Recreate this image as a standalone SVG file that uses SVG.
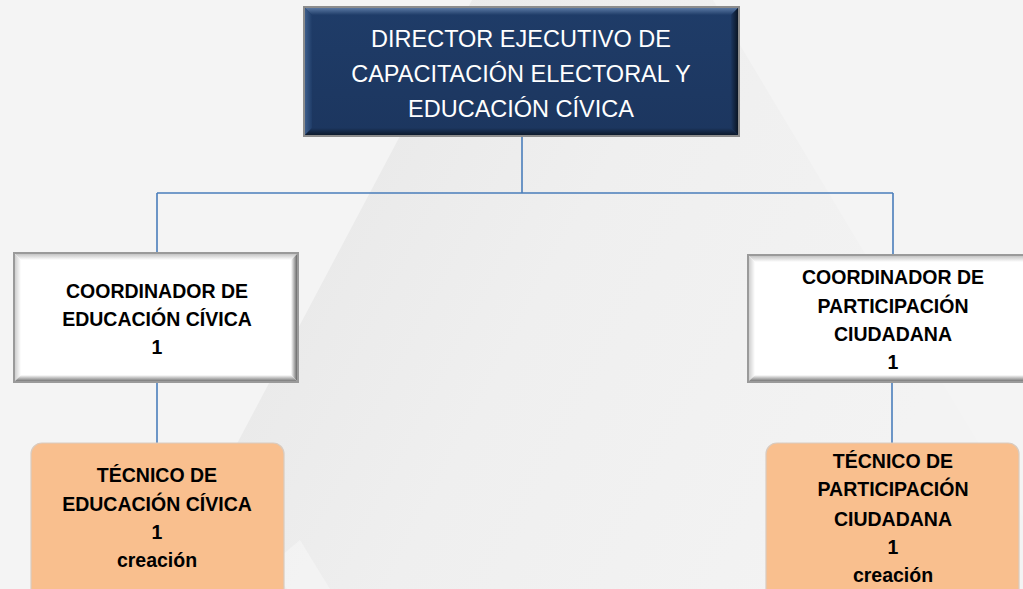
<svg xmlns="http://www.w3.org/2000/svg" width="1023" height="589" viewBox="0 0 1023 589">
<defs>
<linearGradient id="bgShape" x1="0" y1="0" x2="1" y2="0.35">
<stop offset="0" stop-color="#e4e4e4"/>
<stop offset="0.55" stop-color="#efefef"/>
<stop offset="1" stop-color="#f3f3f3"/>
</linearGradient>
<linearGradient id="dirFill" x1="0" y1="0" x2="0" y2="1">
<stop offset="0" stop-color="#1f3c68"/>
<stop offset="1" stop-color="#1c365f"/>
</linearGradient>
<linearGradient id="bvR" x1="0" y1="0" x2="1" y2="0">
<stop offset="0" stop-color="#ffffff"/>
<stop offset="1" stop-color="#6a6a6a"/>
</linearGradient>
<linearGradient id="bvB" x1="0" y1="0" x2="0" y2="1">
<stop offset="0" stop-color="#ffffff"/>
<stop offset="1" stop-color="#7a7a7a"/>
</linearGradient>
<linearGradient id="bvT" x1="0" y1="0" x2="0" y2="1">
<stop offset="0" stop-color="#c4c4c4"/>
<stop offset="1" stop-color="#ffffff"/>
</linearGradient>
<linearGradient id="bvL" x1="0" y1="0" x2="1" y2="0">
<stop offset="0" stop-color="#cfcfcf"/>
<stop offset="1" stop-color="#ffffff"/>
</linearGradient>
<linearGradient id="dR" x1="0" y1="0" x2="1" y2="0">
<stop offset="0" stop-color="#1c365f"/>
<stop offset="1" stop-color="#0a1524"/>
</linearGradient>
<linearGradient id="dB" x1="0" y1="0" x2="0" y2="1">
<stop offset="0" stop-color="#1c365f"/>
<stop offset="1" stop-color="#0d1a2c"/>
</linearGradient>
<linearGradient id="dT" x1="0" y1="0" x2="0" y2="1">
<stop offset="0" stop-color="#5a78a2"/>
<stop offset="1" stop-color="#1f3c68"/>
</linearGradient>
<linearGradient id="dL" x1="0" y1="0" x2="1" y2="0">
<stop offset="0" stop-color="#3d5d8a"/>
<stop offset="1" stop-color="#1f3c68"/>
</linearGradient>
<style>
.conn{fill:none;stroke:#4a7ebb;stroke-width:1.6}
.dirtxt{font-family:"Liberation Sans",Arial,sans-serif;font-size:23.5px;fill:#ffffff;text-anchor:middle}
.btxt{font-family:"Liberation Sans",Arial,sans-serif;font-size:19.5px;font-weight:bold;fill:#000000;text-anchor:middle}
.tec{fill:#f9bf8e;stroke:#d9cbbf;stroke-width:1.2}
</style>
</defs>
<rect x="0" y="0" width="1023" height="589" fill="#f4f4f4"/>
<polygon points="472,0 713,0 1023,517 1023,589 160,589" fill="url(#bgShape)"/>
<polygon points="268,567 300,540 330,589 287,589" fill="#f7f7f7" opacity="0.6"/>

<g id="connectors">
<path class="conn" d="M522,137 V193 M157,193 H893 M157,193 V252 M893,193 V254"/>
<path class="conn" d="M157,383 V443"/>
<path class="conn" d="M892,383 V443"/>
</g>

<g id="director">
<rect x="303" y="6" width="437" height="131" fill="#8c8c8c"/>
<rect x="305" y="8" width="433" height="127" fill="url(#dirFill)"/>
<polygon points="305,8 738,8 731,15 312,15" fill="url(#dT)"/>
<polygon points="305,8 312,15 312,128 305,135" fill="url(#dL)"/>
<polygon points="738,8 738,135 731,128 731,15" fill="url(#dR)"/>
<polygon points="305,135 738,135 731,128 312,128" fill="url(#dB)"/>
<text class="dirtxt" x="521" y="47">DIRECTOR EJECUTIVO DE</text>
<text class="dirtxt" x="521" y="82">CAPACITACIÓN ELECTORAL Y</text>
<text class="dirtxt" x="521" y="117">EDUCACIÓN CÍVICA</text>
</g>

<g id="coord-educacion">
<rect x="13" y="252" width="286" height="131" fill="#9a9a9a"/>
<rect x="15" y="254" width="282" height="127" fill="#ffffff"/>
<polygon points="15,254 297,254 291,260 21,260" fill="url(#bvT)"/>
<polygon points="15,254 21,260 21,375 15,381" fill="url(#bvL)"/>
<polygon points="297,254 297,381 291,375 291,260" fill="url(#bvR)"/>
<polygon points="15,381 297,381 291,375 21,375" fill="url(#bvB)"/>
<text class="btxt" x="157" y="298">COORDINADOR DE</text>
<text class="btxt" x="157" y="326">EDUCACIÓN CÍVICA</text>
<text class="btxt" x="157" y="354">1</text>
</g>

<g id="coord-participacion">
<rect x="747" y="254" width="290" height="129" fill="#9a9a9a"/>
<rect x="749" y="256" width="286" height="125" fill="#ffffff"/>
<polygon points="749,256 1035,256 1029,262 755,262" fill="url(#bvT)"/>
<polygon points="749,256 755,262 755,375 749,381" fill="url(#bvL)"/>
<polygon points="749,381 1035,381 1029,375 755,375" fill="url(#bvB)"/>
<text class="btxt" x="893" y="284">COORDINADOR DE</text>
<text class="btxt" x="893" y="313">PARTICIPACIÓN</text>
<text class="btxt" x="893" y="341">CIUDADANA</text>
<text class="btxt" x="893" y="369">1</text>
</g>

<g id="tecnico-educacion">
<rect class="tec" x="31" y="443" width="253" height="160" rx="11" ry="11"/>
<text class="btxt" x="157" y="482">TÉCNICO DE</text>
<text class="btxt" x="157" y="511">EDUCACIÓN CÍVICA</text>
<text class="btxt" x="157" y="539">1</text>
<text class="btxt" x="157" y="567">creación</text>
</g>

<g id="tecnico-participacion">
<rect class="tec" x="766" y="443" width="253" height="160" rx="11" ry="11"/>
<text class="btxt" x="893" y="468">TÉCNICO DE</text>
<text class="btxt" x="893" y="496">PARTICIPACIÓN</text>
<text class="btxt" x="893" y="526">CIUDADANA</text>
<text class="btxt" x="893" y="554">1</text>
<text class="btxt" x="893" y="582">creación</text>
</g>
</svg>
